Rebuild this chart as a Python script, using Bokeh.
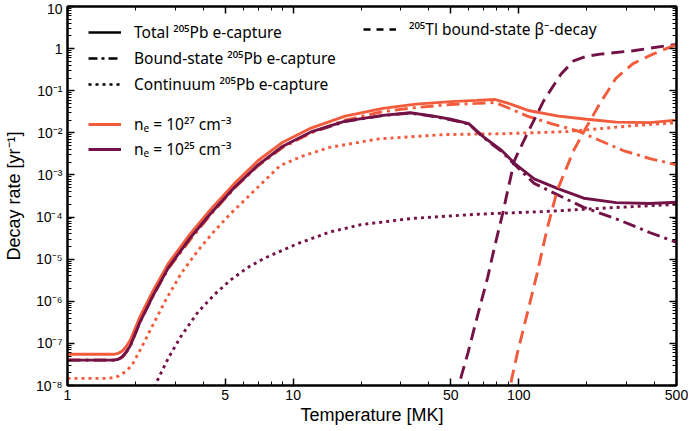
from bokeh.plotting import figure
from bokeh.models import (LogAxis, FixedTicker, CustomJSTickFormatter, Legend,
                          LegendItem, Range1d)
from bokeh.embed import file_html
from bokeh.resources import INLINE

ORANGE = "#f25b3b"
DARK = "#721246"
FONT = "Liberation Sans"
LEG_FONT = "Noto Sans"

# ---- data (temperature in MK, rate in yr^-1) ----
t_tot27 = [1, 1.6, 1.68, 1.75, 1.82, 1.9, 2.1, 2.4, 2.8, 3.5, 4.3, 5.5, 7, 9, 12, 17, 25, 35, 50, 65, 78, 90, 110, 150, 200, 270, 380, 500]
r_tot27 = [5.5e-8, 5.5e-8, 5.8e-8, 6.6e-8, 8.4e-8, 1.2e-7, 4.4e-7, 1.8e-6, 7.9e-6, 4.0e-5, 1.5e-4, 6.3e-4, 2.2e-3, 6.0e-3, 1.3e-2, 2.5e-2,
           3.8e-2, 4.8e-2, 5.5e-2, 5.9e-2, 6.2e-2, 5.0e-2, 3.4e-2, 2.5e-2, 2.1e-2, 1.8e-2, 1.75e-2, 2.0e-2]

t_tot25 = [1, 1.6, 1.68, 1.75, 1.82, 1.9, 2.1, 2.4, 2.8, 3.5, 4.3, 5.5, 7, 9, 12, 17, 25, 33, 42, 50, 60, 70, 84, 96, 117, 148, 194, 270, 380, 500]
r_tot25 = [4.0e-8, 4.0e-8, 4.2e-8, 4.8e-8, 6.2e-8, 8.9e-8, 3.3e-7, 1.4e-6, 6.3e-6, 3.2e-5, 1.2e-4, 5.1e-4, 1.74e-3, 4.8e-3, 1.05e-2, 1.9e-2,
           2.6e-2, 3.0e-2, 2.5e-2, 2.1e-2, 1.66e-2, 7.9e-3, 3.8e-3, 1.86e-3, 8.1e-4, 4.8e-4, 2.8e-4, 2.2e-4, 2.1e-4, 2.24e-4]

t_bnd27 = [1, 1.6, 1.68, 1.75, 1.82, 1.9, 2.1, 2.4, 2.8, 3.5, 4.3, 5.5, 7, 9, 12, 17, 25, 35, 50, 65, 78, 89, 109, 139, 181, 230, 290, 381, 500]
r_bnd27 = [4.0e-8, 4.0e-8, 4.2e-8, 4.7e-8, 6.1e-8, 8.7e-8, 3.4e-7, 1.38e-6, 6.0e-6, 2.9e-5, 1.12e-4, 4.9e-4, 1.66e-3, 4.5e-3, 1.0e-2, 2.0e-2,
           3.2e-2, 4.0e-2, 4.7e-2, 5.0e-2, 5.25e-2, 4.0e-2, 2.5e-2, 1.66e-2, 1.12e-2, 6.5e-3, 3.8e-3, 2.45e-3, 1.74e-3]

t_bnd25 = [1, 1.6, 1.68, 1.75, 1.82, 1.9, 2.1, 2.4, 2.8, 3.5, 4.3, 5.5, 7, 9, 12, 17, 25, 33, 42, 50, 60, 70, 84, 96, 117, 148, 194, 282, 380, 500]
r_bnd25 = [4.0e-8, 4.0e-8, 4.2e-8, 4.8e-8, 6.2e-8, 8.9e-8, 3.3e-7, 1.4e-6, 6.3e-6, 3.2e-5, 1.2e-4, 5.0e-4, 1.7e-3, 4.7e-3, 1.02e-2, 1.86e-2,
           2.57e-2, 2.95e-2, 2.45e-2, 2.04e-2, 1.62e-2, 7.6e-3, 3.6e-3, 1.74e-3, 6.3e-4, 3.4e-4, 1.7e-4, 8.3e-5, 4.3e-5, 2.5e-5]

t_con27 = [1, 1.5, 1.62, 1.69, 1.8, 1.93, 2.13, 2.36, 2.72, 3.19, 3.79, 4.5, 5.28, 6.3, 8.75, 11, 14.5, 24, 47, 84, 163, 230, 321, 500]
r_con27 = [1.48e-8, 1.48e-8, 1.55e-8, 1.7e-8, 2.1e-8, 3.0e-8, 8.1e-8, 2.4e-7, 1.05e-6, 4.6e-6, 1.62e-5, 4.8e-5, 1.2e-4, 3.0e-4,
           1.66e-3, 2.8e-3, 4.5e-3, 7.2e-3, 9.1e-3, 9.5e-3, 1.07e-2, 1.26e-2, 1.48e-2, 1.74e-2]

t_con25 = [2.3, 2.45, 2.8, 3.19, 3.79, 4.5, 5.28, 6.28, 7.45, 10.4, 14.5, 20, 33.8, 66, 129, 255, 500]
r_con25 = [4.5e-9, 1.05e-8, 4.5e-8, 1.5e-7, 5.6e-7, 1.48e-6, 3.2e-6, 6.3e-6, 1.05e-5, 2.3e-5, 4.4e-5, 6.6e-5, 9.3e-5,
           1.17e-4, 1.35e-4, 1.66e-4, 2.0e-4]

t_tl25 = [53, 55, 59.5, 66, 72.8, 78, 84.8, 95.6, 109, 129, 154, 175, 200, 230, 321, 480, 500]
r_tl25 = [5.0e-9, 1.35e-8, 5.9e-8, 5.1e-7, 3.7e-6, 1.9e-5, 1.2e-4, 2.2e-3, 9.5e-3, 5.8e-2, 0.25, 0.51, 0.66, 0.74, 0.89, 1.23, 1.26]

t_tl27 = [90, 92.8, 98.6, 109, 120.6, 133, 148, 175, 200, 230, 270, 321, 393, 480, 500]
r_tl27 = [4.0e-9, 1.35e-8, 5.9e-8, 5.1e-7, 4.6e-6, 4.8e-5, 4.3e-4, 3.8e-3, 1.41e-2, 5.2e-2, 0.20, 0.44, 0.74, 1.15, 1.2]

x_major = [1, 5, 10, 50, 100, 500]
x_minor = [2, 3, 4, 6, 7, 8, 9, 20, 30, 40, 60, 70, 80, 90, 200, 300, 400]
y_major = [10.0 ** e for e in range(-8, 2)]
y_minor = [m * 10.0 ** e for e in range(-8, 1) for m in range(2, 10)]

x_label = "Temperature [MK]"
y_label = "Decay rate [yr⁻¹]"

# ---- figure ----
p = figure(frame_width=609, frame_height=379, x_axis_type="log", y_axis_type="log",
           x_range=Range1d(1, 500), y_range=Range1d(1e-8, 10),
           output_backend="svg", toolbar_location=None,
           min_border_left=60, min_border_right=12, min_border_top=6, min_border_bottom=36)
p.grid.visible = False
p.outline_line_color = "black"
p.outline_line_width = 2
p.background_fill_color = "white"

xt = FixedTicker(ticks=x_major, minor_ticks=x_minor)
yt = FixedTicker(ticks=y_major, minor_ticks=y_minor)
xfmt = CustomJSTickFormatter(code="return String(Math.round(tick));")
yfmt = CustomJSTickFormatter(code="""
const e = Math.round(Math.log10(tick));
if (e == 0) return "1";
if (e == 1) return "10";
const sup = {"-":"\u207b","0":"\u2070","1":"\u00b9","2":"\u00b2","3":"\u00b3","4":"\u2074",
             "5":"\u2075","6":"\u2076","7":"\u2077","8":"\u2078","9":"\u2079"};
return "10" + String(e).split("").map(c => sup[c]).join("");
""")


def style(ax, labels=True):
    ax.axis_line_width = 2
    ax.axis_line_color = "black"
    ax.major_tick_in = 7
    ax.major_tick_out = 0
    ax.minor_tick_in = 4
    ax.minor_tick_out = 0
    ax.major_tick_line_width = 1.5
    ax.minor_tick_line_width = 1
    ax.major_tick_line_color = "black"
    ax.minor_tick_line_color = "black"
    if labels:
        ax.major_label_text_font = FONT
        ax.major_label_text_font_size = "14px"
        ax.major_label_text_color = "black"
        ax.major_label_standoff = 4
        ax.axis_label_text_font = FONT
        ax.axis_label_text_font_size = "18px"
        ax.axis_label_text_font_style = "normal"
        ax.axis_label_text_color = "black"
    else:
        ax.major_label_text_font_size = "0px"
        ax.major_label_standoff = 0
        ax.major_label_text_alpha = 0


xa = p.xaxis[0]
xa.ticker = xt
xa.formatter = xfmt
xa.axis_label = x_label
style(xa)
xa.axis_label_standoff = 2

ya = p.yaxis[0]
ya.ticker = yt
ya.formatter = yfmt
ya.axis_label = y_label
style(ya)
ya.major_label_standoff = 5
ya.axis_label_standoff = 9

top = LogAxis(ticker=FixedTicker(ticks=x_major, minor_ticks=x_minor))
style(top, labels=False)
p.add_layout(top, "above")
right = LogAxis(ticker=FixedTicker(ticks=y_major, minor_ticks=y_minor))
style(right, labels=False)
p.add_layout(right, "right")

LW = 2.9
DOT = "3 4"
DASHDOT = "13 5 3 5"
DASH = "13 7"

p.line(t_con25, r_con25, line_color=DARK, line_width=LW, line_dash=DOT)
p.line(t_con27, r_con27, line_color=ORANGE, line_width=LW, line_dash=DOT)
p.line(t_bnd25, r_bnd25, line_color=DARK, line_width=LW, line_dash=DASHDOT)
p.line(t_bnd27, r_bnd27, line_color=ORANGE, line_width=LW, line_dash=DASHDOT)
r27 = p.line(t_tot27, r_tot27, line_color=ORANGE, line_width=LW)
r25 = p.line(t_tot25, r_tot25, line_color=DARK, line_width=LW)
p.line(t_tl25, r_tl25, line_color=DARK, line_width=LW, line_dash=DASH)
p.line(t_tl27, r_tl27, line_color=ORANGE, line_width=LW, line_dash=DASH)

# legend key renderers (hidden; only their style shows in the legend)
k_solid = p.line(t_tot27, r_tot27, line_color="black", line_width=2.4, visible=False)
k_dashdot = p.line(t_bnd27, r_bnd27, line_color="black", line_width=2.4, line_dash="9 4 3 4", visible=False)
k_dot = p.line(t_con27, r_con27, line_color="black", line_width=2.4, line_dash="3 4", visible=False)
k_dash = p.line(t_tl27, r_tl27, line_color="black", line_width=2.4, line_dash="7 6", visible=False)


def make_legend(items, loc, spacing):
    lg = Legend(items=items, location=loc)
    lg.background_fill_alpha = 0
    lg.border_line_alpha = 0
    lg.inactive_fill_alpha = 0
    lg.label_text_font = LEG_FONT
    lg.label_text_font_size = "15.5px"
    lg.label_text_color = "black"
    lg.glyph_width = 33
    lg.glyph_height = 20
    lg.label_height = 20
    lg.label_standoff = 13
    lg.spacing = spacing
    lg.padding = 0
    lg.margin = 0
    lg.click_policy = "none"
    return lg


leg1 = make_legend([
    LegendItem(label="Total ²⁰⁵Pb e-capture", renderers=[k_solid]),
    LegendItem(label="Bound-state ²⁰⁵Pb e-capture", renderers=[k_dashdot]),
    LegendItem(label="Continuum ²⁰⁵Pb e-capture", renderers=[k_dot]),
], (21, 290), 4)
leg2 = make_legend([
    LegendItem(label="nₑ = 10²⁷ cm⁻³", renderers=[r27]),
    LegendItem(label="nₑ = 10²⁵ cm⁻³", renderers=[r25]),
], (21, 225), 3)
leg3 = make_legend([
    LegendItem(label="²⁰⁵Tl bound-state β⁻-decay", renderers=[k_dash]),
], (296, 345), 4)
p.add_layout(leg1)
p.add_layout(leg2)
p.add_layout(leg3)

open("out.html", "w").write(file_html(p, INLINE))
